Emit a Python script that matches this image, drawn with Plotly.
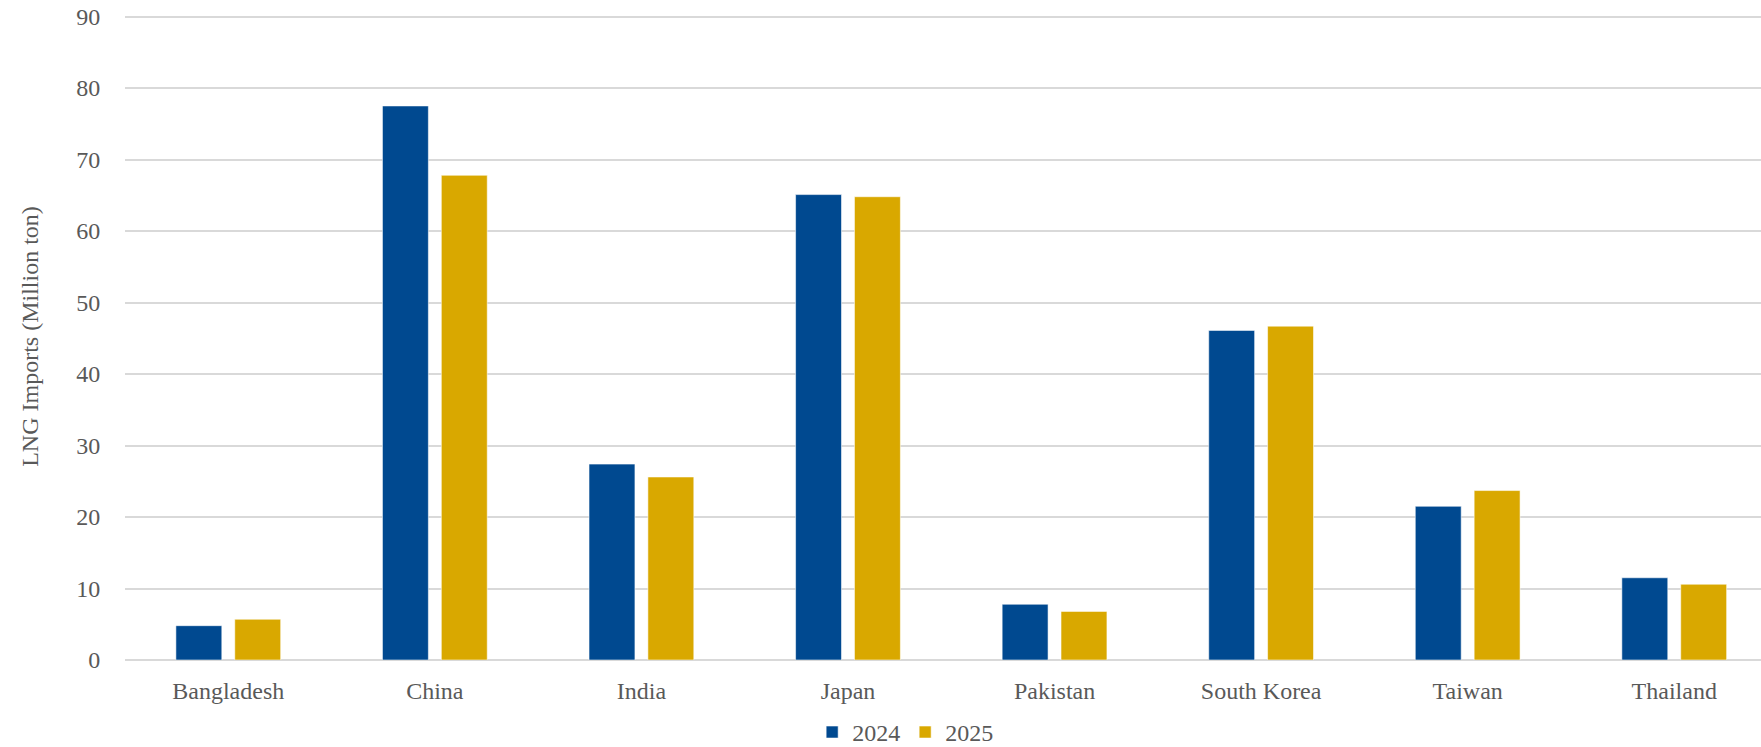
import plotly.graph_objects as go

countries = ["Bangladesh", "China", "India", "Japan", "Pakistan", "South Korea", "Taiwan", "Thailand"]
imports_2024 = [4.8, 77.5, 27.4, 65.1, 7.8, 46.1, 21.5, 11.5]
imports_2025 = [5.7, 67.8, 25.6, 64.8, 6.8, 46.7, 23.7, 10.6]
y_ticks = [0, 10, 20, 30, 40, 50, 60, 70, 80, 90]

FONT = "Liberation Serif, Times New Roman, serif"
TXT = "#595959"
FS = 24

fig = go.Figure()
fig.add_trace(go.Bar(x=countries, y=imports_2024, name="2024",
                     marker=dict(color="#004990", line=dict(color="rgba(255,255,255,0.55)", width=1))))
fig.add_trace(go.Bar(x=countries, y=imports_2025, name="2025",
                     marker=dict(color="#D9A800", line=dict(color="rgba(255,255,255,0.55)", width=1))))

fig.update_layout(
    width=1761, height=747,
    margin=dict(l=125, r=0, t=13, b=87, autoexpand=False),
    paper_bgcolor="white", plot_bgcolor="white",
    barmode="group", bargap=0.43, bargroupgap=0.22,
    font=dict(family=FONT, size=FS, color=TXT),
    showlegend=True,
    legend=dict(orientation="h", xref="container", yref="container",
                x=0.514, xanchor="center", y=0.0195, yanchor="middle",
                font=dict(family=FONT, size=FS, color=TXT), traceorder="normal"),
)
fig.update_xaxes(
    type="category", range=[-0.5, 7.42], showgrid=False, showline=False, automargin=False,
    ticks="outside", ticklen=9, tickcolor="rgba(0,0,0,0)",
    tickfont=dict(family=FONT, size=FS, color=TXT), fixedrange=True,
)
fig.update_yaxes(
    range=[0, 90.5], tickvals=y_ticks, showgrid=True, gridcolor="#d9d9d9", gridwidth=1.6,
    zeroline=True, zerolinecolor="#d9d9d9", zerolinewidth=1.6, showline=False, automargin=False,
    ticks="outside", ticklen=19, tickcolor="rgba(0,0,0,0)",
    tickfont=dict(family=FONT, size=FS, color=TXT),
    title=dict(text="LNG Imports (Million ton)", font=dict(family=FONT, size=FS, color=TXT), standoff=30),
)

fig.write_html("out.html", config={"displayModeBar": False},
               post_script="document.body.style.margin='0';document.body.style.overflow='hidden';")
